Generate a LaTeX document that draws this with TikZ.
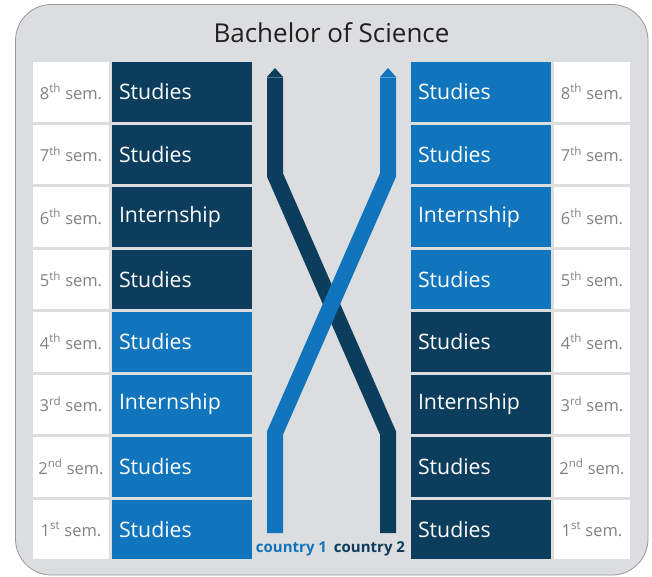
\documentclass[tikz,border=0pt]{standalone}
\usepackage{fontspec}
\setmainfont{Open Sans}
\definecolor{darkb}{RGB}{12,61,93}
\definecolor{lightb}{RGB}{16,117,189}
\definecolor{bggrey}{RGB}{220,221,223}
\definecolor{labgrey}{RGB}{130,130,130}
\definecolor{titlec}{RGB}{35,31,32}
\tikzset{
  semlab/.style={fill=white, minimum width=76pt, minimum height=59.5pt, inner sep=0pt, text=labgrey, font=\fontsize{16.5}{16}\selectfont},
  semboxd/.style={fill=darkb, text=white, text width=126pt, inner xsep=7pt, inner ysep=0pt, minimum height=59.5pt, align=left, font=\fontsize{21.3}{21}\selectfont},
  semboxl/.style={semboxd, fill=lightb},
  track/.style={line width=16pt, line join=miter, line cap=butt},
}
\begin{document}
\begin{tikzpicture}[x=1pt,y=-1pt]
\useasboundingbox (0,0) rectangle (652,576);
\fill[white] (0,0) rectangle (652,576);
\draw[fill=bggrey, draw=gray!80, line width=0.8pt, rounded corners=36pt] (15.5,4.5) rectangle (648,575);
\node[text=titlec, font=\fontsize{26}{26}\selectfont] (title) at (331.5,33) {Bachelor of Science};
% rows: k=0 top (8th) to 7 (1st)
\foreach \k/\s/\lt/\rt/\lc/\rc in {
  0/8\textsuperscript{th}/Studies/Studies/semboxd/semboxl,
  1/7\textsuperscript{th}/Studies/Studies/semboxd/semboxl,
  2/6\textsuperscript{th}/Internship/Internship/semboxd/semboxl,
  3/5\textsuperscript{th}/Studies/Studies/semboxd/semboxl,
  4/4\textsuperscript{th}/Studies/Studies/semboxl/semboxd,
  5/3\textsuperscript{rd}/Internship/Internship/semboxl/semboxd,
  6/2\textsuperscript{nd}/Studies/Studies/semboxl/semboxd,
  7/1\textsuperscript{st}/Studies/Studies/semboxl/semboxd}{
  \pgfmathsetmacro{\yy}{62+62.5*\k+29.75}
  \node[semlab] (LL\k) at (71,\yy) {\s\ sem.};
  \node[\lc] (LB\k) at (182,\yy) {\lt};
  \node[\rc] (RB\k) at (481,\yy) {\rt};
  \node[semlab] (RL\k) at (592,\yy) {\s\ sem.};
}
% tracks
\coordinate (d0) at (275,77);
\coordinate (d1) at (275,175);
\coordinate (d2) at (388,433);
\coordinate (d3) at (388,533);
\coordinate (l0) at (388,77);
\coordinate (l1) at (388,175);
\coordinate (l2) at (275,433);
\coordinate (l3) at (275,533);
\draw[track, darkb] (d0) -- (d1) -- (d2) -- (d3);
\fill[darkb] (267,77) -- (275,68) -- (283,77) -- cycle;
\draw[darkb!70!white, line width=0.6pt] (267,77) -- (283,77);
\draw[track, lightb] (l0) -- (l1) -- (l2) -- (l3);
\fill[lightb] (380,77) -- (388,68) -- (396,77) -- cycle;
\draw[lightb!70!white, line width=0.6pt] (380,77) -- (396,77);
\node[text=lightb, font=\fontsize{15}{15}\selectfont\bfseries, inner sep=0pt] (c1) at (291.5,549) {country 1};
\node[text=darkb, font=\fontsize{15}{15}\selectfont\bfseries, inner sep=0pt] (c2) at (369.5,549) {country 2};
\end{tikzpicture}
\end{document}
